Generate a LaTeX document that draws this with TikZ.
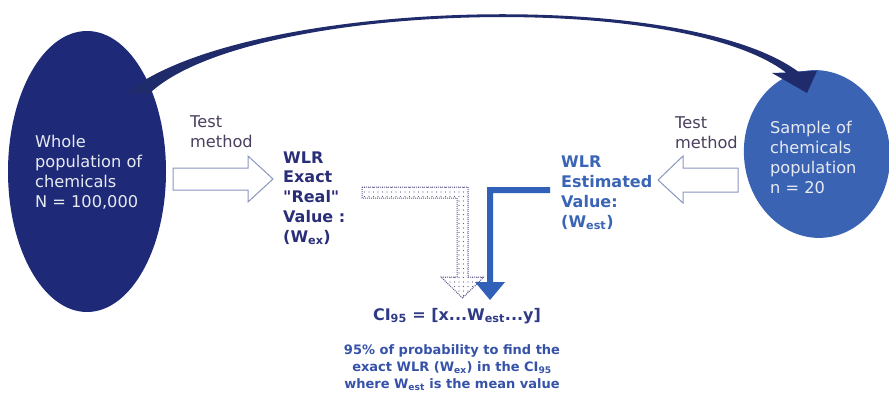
\documentclass[tikz,border=0pt]{standalone}
\usepackage{fontspec}
\setmainfont{DejaVu Sans}
\usetikzlibrary{patterns.meta}
\definecolor{navy}{HTML}{1E2A78}
\definecolor{arcnavy}{HTML}{1F2B6B}
\definecolor{midblue}{HTML}{3B63B3}
\definecolor{purplegray}{HTML}{4A3F5C}
\definecolor{exactcol}{HTML}{2A2E78}
\definecolor{estcol}{HTML}{3A64B4}
\definecolor{hollowcol}{HTML}{8A96C0}
\definecolor{lblue}{HTML}{3060B8}
\definecolor{dotcol}{HTML}{5F5C8E}
\definecolor{notecol}{HTML}{3552A8}
\definecolor{cicol}{HTML}{2E3A86}
\definecolor{elltext}{HTML}{E8EAF2}
\tikzset{
  txt/.style={anchor=base west, align=left, inner sep=0pt, font=\fontsize{16.2}{19.7}\selectfont},
  elltxt/.style={txt, text=elltext},
  testtxt/.style={txt, text=purplegray},
  boldtxt/.style={txt, font=\fontsize{16}{19.7}\selectfont\bfseries},
  hollow/.style={draw=hollowcol, line width=1pt, fill=white, line join=miter},
}
\begin{document}
\begin{tikzpicture}[x=1pt,y=-1pt]
\useasboundingbox (0,0) rectangle (889,399);
% populations
\fill[navy] (87,171.5) ellipse [x radius=79, y radius=140.5];
\fill[midblue, rotate around={6:(817,154)}] (817,154) ellipse [x radius=73, y radius=84];
% big sampling arc
\fill[arcnavy] (126,93) .. controls (240,0) and (680,-15) .. (798,71.5)
  -- (817,71) -- (807,93) -- (772,73) -- (786,72.5)
  .. controls (676,-11) and (246,3) .. (150,93) -- cycle;
% hollow arrows
\draw[hollow] (173,168) -- (248,168) -- (248,156) -- (273,179) -- (248,202) -- (248,190) -- (173,190) -- cycle;
\draw[hollow] (738,168) -- (683,168) -- (683,156) -- (658,180) -- (683,203) -- (683,192) -- (738,192) -- cycle;
% dotted L arrow
\path[fill=white] (362,187) -- (468,187) -- (468,277) -- (484,277) -- (462.5,298) -- (441,277) -- (457,277) -- (457,198) -- (362,198) -- cycle;
\path[pattern={Dots[distance=4.5pt,radius=0.6pt]}, pattern color=dotcol] (362,187) -- (468,187) -- (468,277) -- (484,277) -- (462.5,298) -- (441,277) -- (457,277) -- (457,198) -- (362,198) -- cycle;
\draw[dotcol, densely dotted, line width=1pt] (362,187) -- (468,187) -- (468,277) -- (484,277) -- (462.5,298) -- (441,277) -- (457,277) -- (457,198) -- (362,198) -- cycle;
% solid blue L arrow
\fill[lblue] (550,187) -- (487,187) -- (487,282) -- (475,282) -- (490,300) -- (505,282) -- (493,282) -- (493,193) -- (550,193) -- cycle;
% texts (anchor base = baseline of the last line)
\node[elltxt] (pop) at (35,207) {Whole\\population of\\chemicals\\N = 100,000};
\node[elltxt] (sample) at (770,193) {Sample of\\chemicals\\population\\n = 20};
\node[testtxt] (test1) at (190,147) {Test\\method};
\node[testtxt] (test2) at (675,148) {Test\\method};
\node[boldtxt, text=exactcol] (exact) at (283,242) {WLR\\Exact\\\textquotedbl Real\textquotedbl\\Value :\\(W\textsubscript{ex})};
\node[boldtxt, text=estcol] (est) at (561,227) {WLR\\Estimated\\Value:\\(W\textsubscript{est})};
\node[anchor=base, inner sep=0pt, text=cicol, font=\fontsize{16}{19}\selectfont\bfseries] (ci) at (457,320) {CI\textsubscript{95} = [x...W\textsubscript{est}...y]};
\node[anchor=base, align=center, inner sep=0pt, text=notecol, font=\fontsize{13}{16.7}\selectfont\bfseries] (note) at (452,388) {95\% of probability to find the\\exact WLR (W\textsubscript{ex}) in the CI\textsubscript{95}\\where W\textsubscript{est} is the mean value};
\end{tikzpicture}
\end{document}
